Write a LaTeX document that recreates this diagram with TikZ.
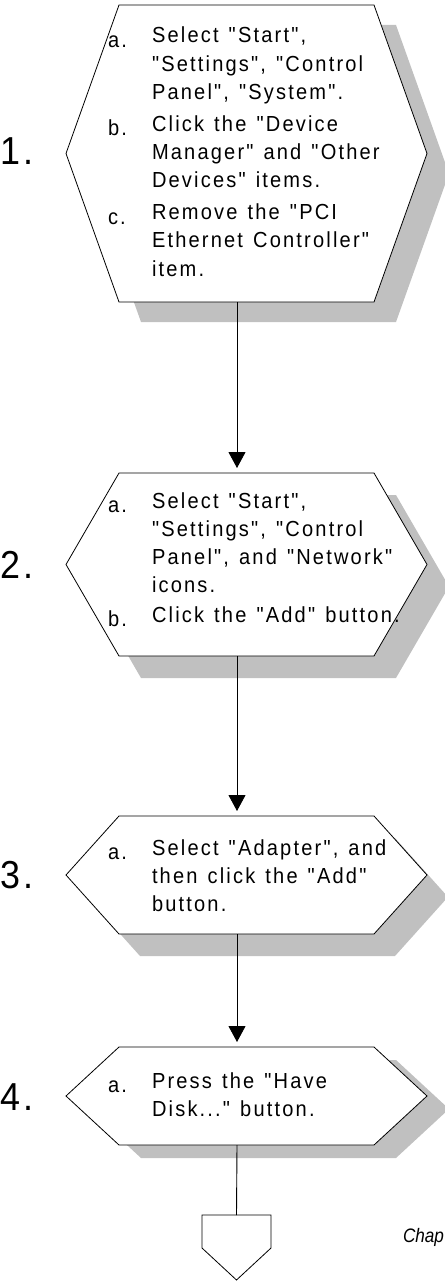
\documentclass[tikz,border=0pt]{standalone}
\usepackage{fontspec}
\usetikzlibrary{arrows.meta,calc}
\newfontfamily\stepfont{Liberation Sans}[FakeStretch=0.92,LetterSpace=10,WordSpace=1.3]
\newfontfamily\chapfont{Liberation Sans}[FakeStretch=0.88]
\definecolor{shadowgray}{HTML}{C0C0C0}
\newcommand\hexpathcmd[4]{%
  \path[#1] ([shift={(#3,#4)}]#2.west) -- ([shift={(53+#3,#4)}]#2.north west)
    -- ([shift={(-53+#3,#4)}]#2.north east) -- ([shift={(#3,#4)}]#2.east)
    -- ([shift={(-53+#3,#4)}]#2.south east) -- ([shift={(53+#3,#4)}]#2.south west) -- cycle;}
\newcommand\lab[1]{\makebox[44pt][l]{\raisebox{-4.5pt}{#1}}}
\begin{document}
\begin{tikzpicture}[x=1pt,y=-1pt,
  hexbox/.style={draw=none, inner sep=0pt, outer sep=0pt, minimum width=361pt},
  hexline/.style={draw=black, line width=0.8pt, fill=white, line join=miter},
  shadowfill/.style={fill=shadowgray},
  conn/.style={draw=black, line width=0.9pt},
  arr/.style={conn, -{Triangle[width=17pt,length=16pt]}},
  txt/.style={inner sep=0pt, outer sep=0pt, anchor=base west, font=\stepfont\fontsize{21.8}{28.3}\selectfont},
  num/.style={inner sep=0pt, outer sep=0pt, anchor=base west, font=\stepfont\fontsize{39}{39}\selectfont},
]
\useasboundingbox (0,0) rectangle (444,1281);
% hexagon frames
\node[hexbox, minimum height=297pt] (h1) at (246.5,153.5) {};
\node[hexbox, minimum height=183pt] (h2) at (246.5,564.5) {};
\node[hexbox, minimum height=118pt] (h3) at (246.5,875) {};
\node[hexbox, minimum height=98pt]  (h4) at (246.5,1096) {};
\node[draw=none, inner sep=0pt, outer sep=0pt, minimum width=69pt, minimum height=65pt] (opc) at (236.5,1247.5) {};
% shadows
\hexpathcmd{shadowfill}{h1}{22}{20}
\hexpathcmd{shadowfill}{h2}{22}{22}
\hexpathcmd{shadowfill}{h3}{21}{22}
\hexpathcmd{shadowfill}{h4}{22}{13}
% hexagons
\hexpathcmd{hexline}{h1}{0}{0}
\hexpathcmd{hexline}{h2}{0}{0}
\hexpathcmd{hexline}{h3}{0}{0}
\hexpathcmd{hexline}{h4}{0}{0}
% off-page connector
\draw[hexline] (opc.north west) -- (opc.north east) -- ([shift={(0,-32)}]opc.south east)
  -- (opc.south) -- ([shift={(0,-32)}]opc.south west) -- cycle;
% connectors
\draw[arr] ([xshift=-9.5pt]h1.south) -- ([xshift=-9.5pt,yshift=5pt]h2.north);
\draw[arr] ([xshift=-9.5pt]h2.south) -- ([xshift=-9.5pt,yshift=5pt]h3.north);
\draw[arr] ([xshift=-9.5pt]h3.south) -- ([xshift=-9.5pt,yshift=5pt]h4.north);
\draw[conn] ([xshift=-9.5pt]h4.south) -- (opc.north);
% numbers
\node[num] (n1) at (0,165) {1.};
\node[num] (n2) at (0,578) {2.};
\node[num] (n3) at (0,888) {3.};
\node[num] (n4) at (0,1110) {4.};
% texts
\node[txt] (t1) at (108,43) {\begin{tabular}[t]{@{}l@{}l@{}}
\lab{a.} & Select "Start",\\
 & "Settings", "Control\\
 & Panel", "System".\\[3.4pt]
\lab{b.} & Click the "Device\\
 & Manager" and "Other\\
 & Devices" items.\\[3.4pt]
\lab{c.} & Remove the "PCI\\
 & Ethernet Controller"\\
 & item.
\end{tabular}};
\node[txt] (t2) at (108,508) {\begin{tabular}[t]{@{}l@{}l@{}}
\lab{a.} & Select "Start",\\
 & "Settings", "Control\\
 & Panel", and "Network"\\
 & icons.\\[1pt]
\lab{b.} & Click the "Add" button.
\end{tabular}};
\node[txt] (t3) at (108,855) {\begin{tabular}[t]{@{}l@{}l@{}}
\lab{a.} & Select "Adapter", and\\
 & then click the "Add"\\
 & button.
\end{tabular}};
\node[txt] (t4) at (108,1088) {\begin{tabular}[t]{@{}l@{}l@{}}
\lab{a.} & Press the "Have\\
 & Disk..." button.
\end{tabular}};
\node[txt, font=\chapfont\itshape\fontsize{19.5}{23}\selectfont] (chap) at (403,1242) {Chap};
\end{tikzpicture}
\end{document}
